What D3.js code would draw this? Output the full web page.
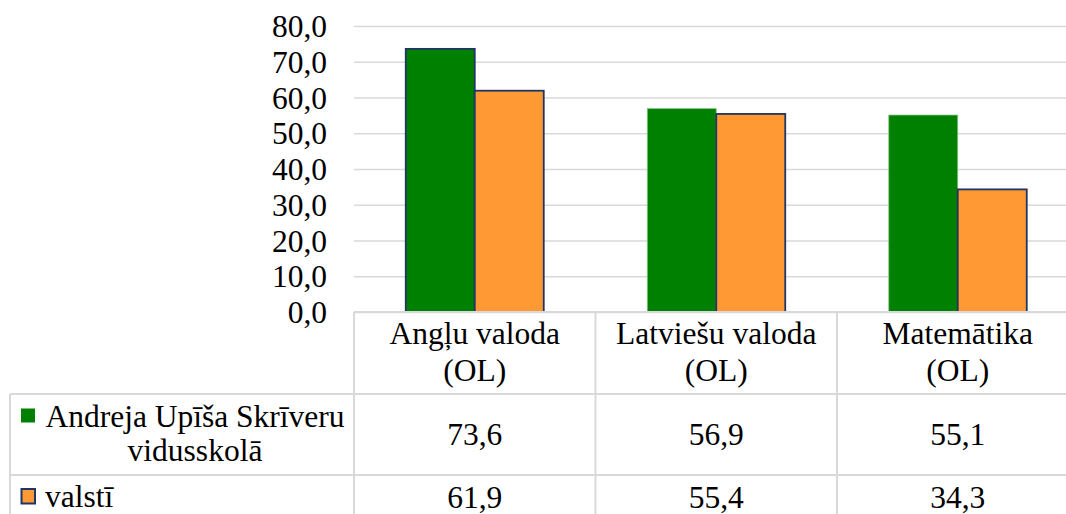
<!DOCTYPE html>
<html>
<head>
<meta charset="utf-8">
<script src="https://cdn.jsdelivr.net/npm/d3@7"></script>
</head>
<body style="margin:0">
<svg id="chart" width="1066" height="514" style="display:block"></svg>
<script>
// ---- data ----
const categories = [["Angļu valoda", "(OL)"], ["Latviešu valoda", "(OL)"], ["Matemātika", "(OL)"]];
const categoryKeys = ["Angļu valoda (OL)", "Latviešu valoda (OL)", "Matemātika (OL)"];
const seriesNames = [["Andreja Upīša Skrīveru", "vidusskolā"], ["valstī"]];
const seriesKeys = ["school", "country"];
const schoolValues = [73.6, 56.9, 55.1];
const countryValues = [61.9, 55.4, 34.3];
const tableLabels = [["73,6", "56,9", "55,1"], ["61,9", "55,4", "34,3"]];
const yTicks = [0, 10, 20, 30, 40, 50, 60, 70, 80];

const seriesValues = [schoolValues, countryValues];
const fills = ["#008000", "#FF9933"];
const navy = "#1F3566";
const grid = "#D9D9D9";

const svg = d3.select("#chart");

const plotLeft = 354, plotRight = 1078.5, plotTop = 26, plotBottom = 312;
const pIn = 0.4286;
const x = d3.scaleBand().domain(categoryKeys).range([plotLeft, plotRight])
  .paddingInner(pIn).paddingOuter(pIn / 2);
const xs = d3.scaleBand().domain(seriesKeys).range([0, x.bandwidth()]).padding(0);
const y = d3.scaleLinear().domain([0, 80]).range([plotBottom, plotTop]);

// gridlines
const yAxis = d3.axisLeft(y).tickValues(yTicks).tickSize(-(plotRight - plotLeft));
const gA = svg.append("g").attr("transform", `translate(${plotLeft},0)`).call(yAxis);
gA.select(".domain").remove();
gA.selectAll(".tick line").attr("stroke", grid).attr("stroke-width", 1.6);
gA.selectAll(".tick text").remove();

// bars
const bars = svg.append("g");
categoryKeys.forEach((c, i) => {
  seriesKeys.forEach((s, j) => {
    const v = seriesValues[j][i];
    const navyEdge = (j === 1) || (i === 0);
    bars.append("rect")
      .attr("x", x(c) + xs(s))
      .attr("y", y(v))
      .attr("width", xs.bandwidth())
      .attr("height", y(0) - y(v))
      .attr("fill", fills[j])
      .attr("stroke", navyEdge ? navy : "#8CC88C")
      .attr("stroke-width", navyEdge ? 1.8 : 0.8);
  });
});

// data table
const step = x.step();
const colLeft = c => x(c) - (step - x.bandwidth()) / 2;
const tableLeft = 10;
const rowTop = [312, 394, 475];
const rowBottom = 523;
const tb = svg.append("g").attr("stroke", grid).attr("stroke-width", 2).attr("fill", "none");
tb.append("line").attr("x1", plotLeft).attr("x2", plotRight).attr("y1", rowTop[0]).attr("y2", rowTop[0]);
tb.append("line").attr("x1", tableLeft).attr("x2", plotRight).attr("y1", rowTop[1]).attr("y2", rowTop[1]);
tb.append("line").attr("x1", tableLeft).attr("x2", plotRight).attr("y1", rowTop[2]).attr("y2", rowTop[2]);
tb.append("line").attr("x1", tableLeft).attr("x2", tableLeft).attr("y1", rowTop[1]).attr("y2", rowBottom);
categoryKeys.forEach(c => {
  tb.append("line").attr("x1", colLeft(c)).attr("x2", colLeft(c)).attr("y1", rowTop[0]).attr("y2", rowBottom);
});
tb.append("line").attr("x1", plotRight).attr("x2", plotRight).attr("y1", rowTop[0]).attr("y2", rowBottom);

function addText(xp, yp, s, anchor) {
  return svg.append("text").attr("x", xp).attr("y", yp)
    .attr("text-anchor", anchor || "middle")
    .style("font-family", '"Liberation Serif"').style("font-size", "31.5px")
    .attr("fill", "#000").text(s);
}
// y tick labels
yTicks.forEach(t => {
  addText(327, y(t) + 11, d3.format(".1f")(t).replace(".", ","), "end");
});
// header
categoryKeys.forEach((c, i) => {
  const cx = x(c) + x.bandwidth() / 2;
  addText(cx, 344, categories[i][0]);
  addText(cx, 381, categories[i][1]);
});
// values
categoryKeys.forEach((c, i) => {
  const cx = x(c) + x.bandwidth() / 2;
  addText(cx, 445, tableLabels[0][i]);
  addText(cx, 508, tableLabels[1][i]);
});
// legend keys
svg.append("rect").attr("x", 21).attr("y", 408.5).attr("width", 14).attr("height", 14).attr("fill", fills[0]);
svg.append("rect").attr("x", 21.5).attr("y", 489).attr("width", 13.5).attr("height", 14.5)
  .attr("fill", fills[1]).attr("stroke", navy).attr("stroke-width", 2);
addText(195, 427, seriesNames[0][0]);
addText(195, 461, seriesNames[0][1]);
addText(45, 507, seriesNames[1][0], "start");
</script>
</body>
</html>
